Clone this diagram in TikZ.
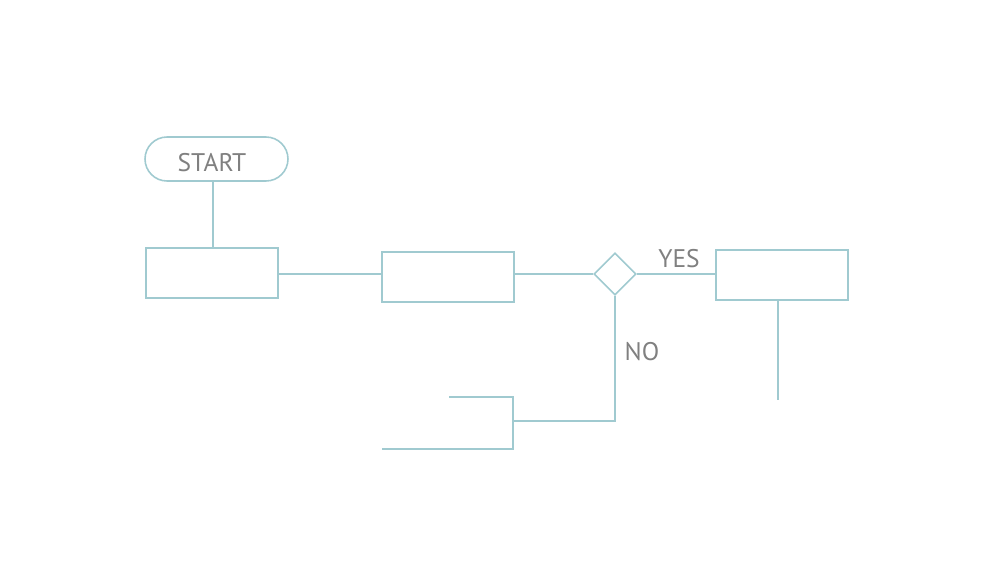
\documentclass[tikz,border=0pt]{standalone}
\usepackage{fontspec}
\setmainfont{PT Sans}
\usepackage{tikz}
\usetikzlibrary{positioning,shapes,calc}
\usepackage{xcolor}
\definecolor{flowteal}{RGB}{160,202,208}
\definecolor{labelgray}{RGB}{128,128,128}

\tikzset{
    flowline/.style={draw=flowteal,line width=0.9pt},
    procbox/.style={flowline,rectangle,minimum width=2.64cm,minimum height=1cm,inner sep=0pt},
    decbox/.style={flowline,diamond,minimum width=0.84cm,minimum height=0.84cm,inner sep=0pt},
    flowlabel/.style={text=labelgray,font=\fontsize{14.5}{16}\selectfont,inner sep=0pt}
}

\begin{document}
\begin{tikzpicture}[x=0.02cm,y=-0.02cm]
    \useasboundingbox (0,0) rectangle (1000,562);

    % Start
    \node[flowline,rectangle,rounded corners=0.44cm,minimum width=2.86cm,minimum height=0.88cm] (start) at (216.5,159) {};
    \node[flowlabel] (starttxt) at (212,163) {START};

    % Boxes
    \node[procbox] (box1) at (212,273) {};
    \node[procbox] (box2) at (448,277) {};
    \node[decbox] (dec) at (615,274) {};
    \node[procbox] (box3) at (782,275) {};

    % Labels
    \node[flowlabel] (yes) at (679,259) {YES};
    \node[flowlabel] (no) at (642,352) {NO};

    % Free ends
    \coordinate (end3) at (778,400);
    \coordinate (brmid) at (513,421);
    \coordinate (brtop) at (513,397);
    \coordinate (brbot) at (513,449);
    \coordinate (toptip) at (449,397);
    \coordinate (bottip) at (382,449);

    % Connectors
    \draw[flowline] (box1.north -| 213,0) -- (start.south -| 213,0);
    \draw[flowline] (box1.east |- 0,274) -- (box2.west |- 0,274);
    \draw[flowline] (box2.east |- dec.west) -- (dec.west);
    \draw[flowline] (dec.east) -- (box3.west |- dec.east);
    \draw[flowline] (box3.south -| end3) -- (end3);
    \draw[flowline] (dec.south) |- (brmid);
    \draw[flowline] (toptip) -- (brtop) -- (brbot) -- (bottip);
\end{tikzpicture}
\end{document}
